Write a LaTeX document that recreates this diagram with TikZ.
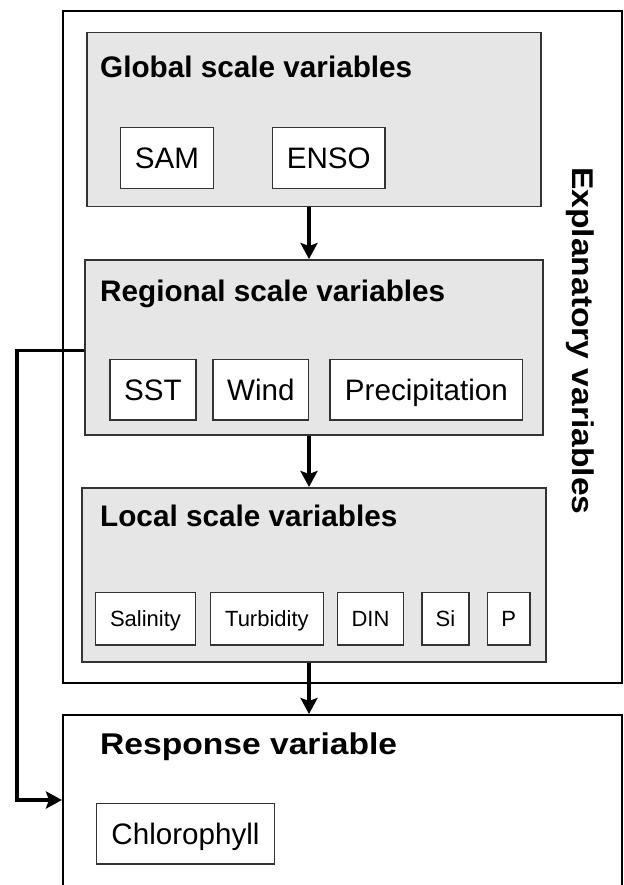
\documentclass[tikz,border=0pt]{standalone}
\usepackage{fontspec}
\setmainfont{Liberation Sans}
\newfontfamily\widefont[FakeStretch=1.12]{Liberation Sans}
\usetikzlibrary{arrows.meta,calc}
\definecolor{panelgray}{HTML}{E6E6E6}
\definecolor{edgegray}{HTML}{333333}
\begin{document}
\begin{tikzpicture}[x=1pt,y=-1pt,
  outerbox/.style={draw=black,line width=2.3pt,inner sep=0pt,anchor=north west},
  panel/.style={draw=edgegray,fill=panelgray,line width=1.5pt,anchor=north west,inner sep=0pt},
  varbox/.style={draw=edgegray,fill=white,line width=1.3pt,inner sep=0pt,text height=21pt,text depth=0pt,font=\fontsize{29.6}{30}\selectfont},
  smallbox/.style={varbox,text height=16pt,font=\fontsize{22}{24}\selectfont},
  title/.style={anchor=base west,inner sep=0pt,font=\fontsize{29.7}{30}\selectfont\bfseries},
  widetitle/.style={inner sep=0pt,font=\widefont\fontsize{30}{30}\selectfont\bfseries},
  arr/.style={line width=3.5pt,-{Stealth[length=16pt,width=17pt,inset=3pt]}},
]
\useasboundingbox (0,0) rectangle (623,885);
\coordinate (ax) at (309,0);

% outer boxes
\node[outerbox,minimum width=559pt,minimum height=672pt] (expl) at (62,10) {};
\node[outerbox,minimum width=559pt,minimum height=200pt] (resp) at (62,714) {};

% panels
\node[panel,minimum width=454pt,minimum height=174pt] (glob) at (86,32) {};
\node[panel,minimum width=458pt,minimum height=175pt] (reg) at (84,259) {};
\node[panel,minimum width=464pt,minimum height=174pt] (loc) at (81,487) {};

% titles
\node[title] (tglob) at (100,77.7) {Global scale variables};
\node[title] (treg) at (100,301.7) {Regional scale variables};
\node[title] (tloc) at (100,526.7) {Local scale variables};
\node[widetitle,anchor=base west] (tresp) at (100,754) {Response variable};
\node[widetitle,anchor=base,rotate=-90] (texpl) at (572,341) {Explanatory variables};

% global variables
\node[varbox,minimum width=93pt,minimum height=61pt] (sam) at (167,157.8) {SAM};
\node[varbox,minimum width=112.7pt,minimum height=61pt] (enso) at (328.7,157.8) {ENSO};

% regional variables
\node[varbox,minimum width=86pt,minimum height=60.7pt] (sst) at (152.9,389.7) {SST};
\node[varbox,minimum width=95.5pt,minimum height=60.7pt] (wind) at (260.8,389.7) {Wind};
\node[varbox,minimum width=192.7pt,minimum height=60.7pt] (prec) at (426.4,389.7) {Precipitation};

% local variables
\node[smallbox,minimum width=100pt,minimum height=52.3pt] (sal) at (145.5,618.8) {Salinity};
\node[smallbox,minimum width=113.4pt,minimum height=52.3pt] (turb) at (266.9,618.8) {Turbidity};
\node[smallbox,minimum width=65.7pt,minimum height=52.3pt] (din) at (370.5,618.8) {DIN};
\node[smallbox,minimum width=47pt,minimum height=52.3pt] (si) at (445.5,618.8) {Si};
\node[smallbox,minimum width=42.6pt,minimum height=52.3pt] (p) at (508.6,618.8) {P};

% response variable
\node[varbox,minimum width=177.6pt,minimum height=60.7pt] (chl) at (185.5,833.7) {Chlorophyll};

% connectors
\draw[arr] (glob.south -| ax) -- (reg.north -| ax);
\draw[arr] (reg.south -| ax) -- (loc.north -| ax);
\draw[arr] (loc.south -| ax) -- (resp.north -| ax);
\coordinate (fbtop) at (17,350.7);
\coordinate (fbbot) at (17,800);
\draw[arr] (fbtop -| reg.west) -- (fbtop) -- (fbbot) -- (fbbot -| resp.west);
\end{tikzpicture}
\end{document}
